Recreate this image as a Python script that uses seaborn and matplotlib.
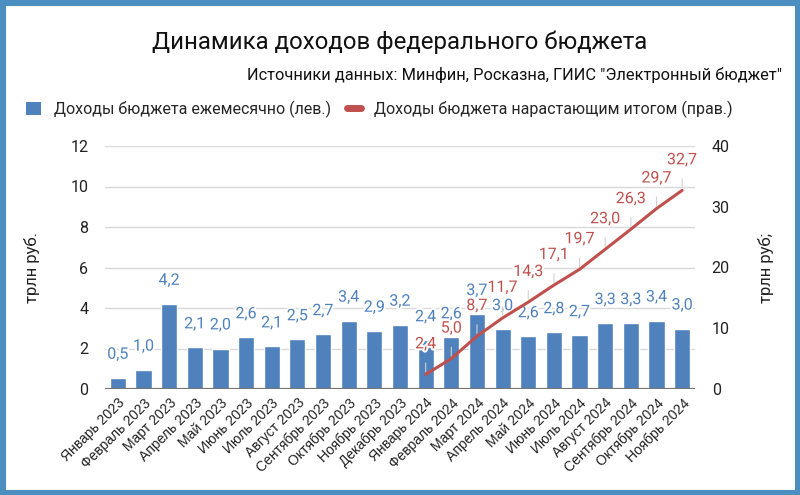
import matplotlib
matplotlib.use("Agg")
import matplotlib.pyplot as plt
import matplotlib.patheffects as pe
from matplotlib.patches import Rectangle
from matplotlib.lines import Line2D
import seaborn as sns
import pandas as pd

# --- data ---
months = [
    "Январь 2023", "Февраль 2023", "Март 2023", "Апрель 2023", "Май 2023",
    "Июнь 2023", "Июль 2023", "Август 2023", "Сентябрь 2023", "Октябрь 2023",
    "Ноябрь 2023", "Декабрь 2023", "Январь 2024", "Февраль 2024", "Март 2024",
    "Апрель 2024", "Май 2024", "Июнь 2024", "Июль 2024", "Август 2024",
    "Сентябрь 2024", "Октябрь 2024", "Ноябрь 2024",
]
monthly = [0.55, 0.95, 4.2, 2.05, 2.0, 2.55, 2.1, 2.45, 2.7, 3.37, 2.87, 3.17,
           2.4, 2.55, 3.7, 2.95, 2.6, 2.8, 2.65, 3.25, 3.25, 3.38, 2.98]
monthly_labels = ["0,5", "1,0", "4,2", "2,1", "2,0", "2,6", "2,1", "2,5", "2,7",
                  "3,4", "2,9", "3,2", "2,4", "2,6", "3,7", "3,0", "2,6", "2,8",
                  "2,7", "3,3", "3,3", "3,4", "3,0"]
cum_months = months[12:]
cumulative = [2.4, 5.0, 8.7, 11.7, 14.3, 17.1, 19.7, 23.0, 26.3, 29.7, 32.7]

BLUE = "#4f81bd"
RED = "#c0504d"
GRID = "#d9d9d9"

sns.set_theme(style="white")
plt.rcParams["font.family"] = ["Roboto", "DejaVu Sans"]

fig = plt.figure(figsize=(8, 4.95), dpi=100)
W, H = 800, 495

# frame around the whole picture
fig.patches.append(Rectangle((0, 0), 1, 1, transform=fig.transFigure,
                             fill=False, edgecolor="#4a8fbf", linewidth=8,
                             zorder=10))

ax = fig.add_axes([105 / W, 1 - 389 / H, 590 / W, 243 / H])
df = pd.DataFrame({"month": months, "value": monthly})
sns.barplot(data=df, x="month", y="value", color=BLUE, width=0.63,
            saturation=1, ax=ax, zorder=2)
ax.set_xlim(-0.5, len(months) - 0.5)
ax.set_ylim(0, 12)
ax.set_yticks(range(0, 13, 2))
ax.grid(axis="y", color=GRID, linewidth=1, zorder=0)
ax.set_axisbelow(True)
for s in ax.spines.values():
    s.set_visible(False)
ax.axhline(0, color="#777777", linewidth=1.6, zorder=3)
ax.tick_params(axis="y", length=0, labelsize=11.5, pad=12, labelcolor="#222222")
ax.tick_params(axis="x", length=0, pad=5)
ax.set_xlabel("")
ax.set_ylabel("трлн руб.", fontsize=12, labelpad=22, color="#222222")
for lab in ax.get_xticklabels():
    lab.set_rotation(45)
    lab.set_ha("right")
    lab.set_rotation_mode("anchor")
    lab.set_fontfamily("Liberation Sans")
    lab.set_fontsize(10)
    lab.set_color("#222222")

halo = [pe.withStroke(linewidth=3, foreground="white")]
for i, (v, t) in enumerate(zip(monthly, monthly_labels)):
    ax.annotate(t, (i, v), xytext=(0, 17), textcoords="offset points",
                ha="center", va="center", fontsize=11.5, color=BLUE,
                path_effects=halo, zorder=5)

# right axis: cumulative
ax2 = ax.twinx()
ax2.set_ylim(0, 40)
ax2.set_yticks(range(0, 41, 10))
for s in ax2.spines.values():
    s.set_visible(False)
ax2.tick_params(axis="y", length=0, labelsize=11.5, pad=12, labelcolor="#222222")
ax2.grid(False)
cdf = pd.DataFrame({"pos": range(12, 12 + len(cumulative)), "value": cumulative})
sns.lineplot(data=cdf, x="pos", y="value", color=RED, linewidth=2.2, ax=ax2,
             zorder=4)
ax2.set_xlim(-0.5, len(months) - 0.5)
ax2.set_xlabel("")
ax2.set_ylabel("трлн руб;", fontsize=12, labelpad=20, color="#222222",
               rotation=90)
for x, v in zip(cdf["pos"], cumulative):
    ax2.annotate(f"{v:.1f}".replace(".", ","), (x, v), xytext=(0, 22),
                 textcoords="offset points", ha="center", va="center",
                 fontsize=11.5, color=RED, path_effects=halo, zorder=6,
                 arrowprops=dict(arrowstyle="-", color="#d0d0d0", lw=0.8,
                                 shrinkA=6, shrinkB=2))

# titles
fig.text(0.5, 1 - 42 / H, "Динамика доходов федерального бюджета",
         ha="center", va="center", fontsize=17.3, color="#111111")
fig.text(782 / W, 1 - 75 / H,
         'Источники данных: Минфин, Росказна, ГИИС "Электронный бюджет"',
         ha="right", va="center", fontsize=11.8, color="#111111")

# legend
handles = [
    Rectangle((0, 0), 1, 1, facecolor=BLUE, edgecolor="none"),
    Line2D([0], [0], color=RED, linewidth=5),
]
fig.legend(handles, ["Доходы бюджета ежемесячно (лев.)",
                     "Доходы бюджета нарастающим итогом (прав.)"],
           loc="center left", bbox_to_anchor=(12 / W, 1 - 109 / H), ncol=2,
           frameon=False, fontsize=11.5, handlelength=0.9, handleheight=0.9,
           columnspacing=1.0, handletextpad=0.8)

fig.savefig("out.png", dpi=100)
